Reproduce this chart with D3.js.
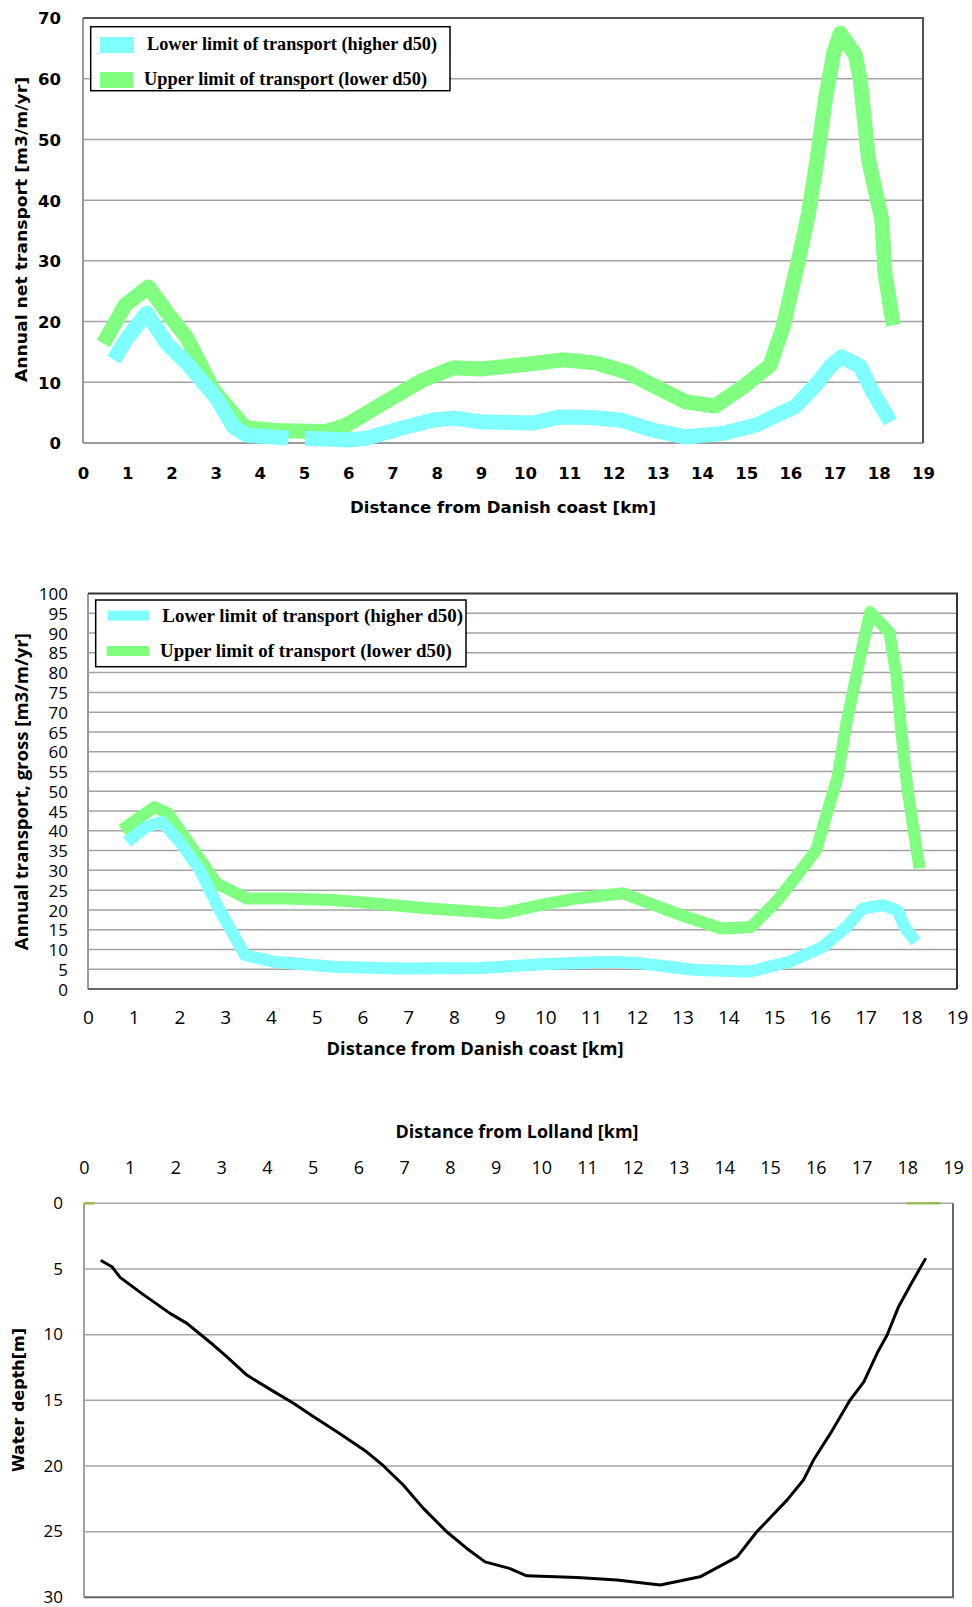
<!DOCTYPE html>
<html>
<head>
<meta charset="utf-8">
<script src="https://cdn.jsdelivr.net/npm/d3@7"></script>
<style>
  body { margin: 0; background: #fff; }
  svg { display: block; }
</style>
</head>
<body>
<svg id="chart" width="972" height="1607"></svg>
<script>
// ---- chart 1 : annual net transport ----
const net_lower_km = [0.69, 1.02, 1.44, 1.89, 2.35, 3.02, 3.4, 3.7, 4.65, 4.8, 5.02, 6.04, 6.42, 7.17, 7.92, 8.38, 8.98,
  10.19, 10.79, 11.47, 12.15, 12.9, 13.62, 14.49, 15.24, 16.11, 16.6, 16.9, 17.16, 17.58, 17.84, 18.26];
const net_lower = [13.7, 17.5, 21.4, 16.4, 13.1, 7.4, 2.7, 1.3, 0.8, null, 0.8, 0.5, 0.8, 2.4, 3.8, 4.1, 3.5,
  3.3, 4.3, 4.2, 3.8, 2.1, 1.0, 1.6, 3.0, 6.0, 9.8, 12.6, 14.2, 12.6, 8.7, 3.5];
const net_upper_km = [0.46, 0.95, 1.48, 1.97, 2.35, 2.95, 3.67, 4.5, 5.5, 5.97, 6.8, 7.7, 8.38, 9.0, 10.2, 10.83, 11.58,
  12.3, 13.62, 14.3, 14.94, 15.54, 15.84, 16.22, 16.41, 16.6, 16.79, 16.98, 17.13, 17.47, 17.58, 17.77, 18.07, 18.14, 18.33];
const net_upper = [16.4, 22.7, 25.7, 20.8, 17.3, 8.7, 2.5, 2.0, 1.9, 3.0, 6.6, 10.4, 12.4, 12.2, 13.1, 13.7, 13.2,
  11.7, 6.8, 6.1, 9.3, 12.8, 19.2, 31.3, 37.8, 46.6, 56.5, 64.2, 67.5, 63.9, 59.8, 46.6, 36.7, 28, 19.4];
const net_ticks = [0, 10, 20, 30, 40, 50, 60, 70];

// ---- chart 2 : annual gross transport ----
const gross_lower_km = [0.85, 1.28, 1.61, 2.01, 2.45, 2.88, 3.43, 4.05, 5.36, 6.82, 8.56, 10.02, 11.48, 12.06,
  13.3, 14.46, 15.34, 16.07, 16.58, 16.94, 17.38, 17.7, 17.85, 18.1];
const gross_lower = [37.2, 41.0, 42.3, 37.2, 30.0, 19.9, 8.6, 6.9, 5.6, 5.2, 5.3, 6.3, 6.9, 6.5,
  4.8, 4.4, 6.9, 10.7, 15.7, 20.4, 21.2, 19.9, 15.7, 11.9];
const gross_upper_km = [0.74, 1.14, 1.46, 1.75, 2.16, 2.81, 3.47, 4.34, 5.36, 6.09, 7.4, 8.56, 9.04, 9.88, 10.68,
  11.7, 12.86, 13.85, 14.5, 15.08, 15.48, 15.92, 16.39, 16.58, 16.87, 17.1, 17.52, 17.67, 17.78, 17.92, 18.18];
const gross_upper = [40.2, 43.5, 46.0, 44.4, 37.6, 26.7, 22.9, 22.9, 22.5, 21.8, 20.4, 19.5, 19.1, 21.2, 22.9,
  24.2, 19.1, 15.3, 15.7, 22.5, 28.4, 35.1, 53.6, 67.1, 83.1, 95.3, 90.2, 79.7, 65.4, 50.3, 30.5];
const gross_ticks = [0, 5, 10, 15, 20, 25, 30, 35, 40, 45, 50, 55, 60, 65, 70, 75, 80, 85, 90, 95, 100];

// ---- chart 3 : water depth ----
const depth_km = [0.39, 0.61, 0.79, 1.26, 1.88, 2.25, 2.83, 3.12, 3.56, 4.07, 4.58, 5.02, 5.53, 6.18, 6.55, 6.98,
  7.42, 7.93, 8.37, 8.77, 9.3, 9.68, 10.78, 11.65, 12.6, 13.47, 14.28, 14.71, 15.37, 15.73, 15.95, 16.32, 16.75,
  17.05, 17.34, 17.56, 17.81, 18.07, 18.39];
const depth = [4.39, 4.83, 5.64, 6.86, 8.38, 9.14, 10.79, 11.68, 13.08, 14.17, 15.23, 16.25, 17.4, 18.92, 20.0, 21.45,
  23.23, 25.01, 26.28, 27.3, 27.8, 28.36, 28.49, 28.69, 29.07, 28.44, 26.92, 25.01, 22.6, 21.07, 19.55, 17.52, 14.98,
  13.59, 11.42, 10.03, 7.87, 6.22, 4.27];
const shore_left_km = [0, 0.24];
const shore_right_km = [17.99, 18.73];
const shore_depth = [0, 0];
const depth_ticks = [0, 5, 10, 15, 20, 25, 30];

const km_ticks = [0, 1, 2, 3, 4, 5, 6, 7, 8, 9, 10, 11, 12, 13, 14, 15, 16, 17, 18, 19];
const legend_labels = ["Lower limit of transport (higher d50)", "Upper limit of transport (lower d50)"];

const cyan = "#80ffff", green = "#80ff80";
const svg = d3.select("#chart");

function pairs(xs, ys) { return xs.map((k, i) => [k, ys[i]]); }

function title(g, txt, cx, cy, len, font, size, rotate) {
  g.append("text")
    .attr("transform", `translate(${cx},${cy})` + (rotate ? " rotate(-90)" : ""))
    .attr("text-anchor", "middle").attr("dy", "0.35em")
    .attr("font-family", font).attr("font-size", size).attr("font-weight", "bold")
    .attr("textLength", len).attr("lengthAdjust", "spacingAndGlyphs")
    .text(txt);
}

function transportChart(c) {
  const x = d3.scaleLinear().domain([0, 19]).range([c.left, c.right]);
  const y = d3.scaleLinear().domain([0, c.ymax]).range([c.bottom, c.top]);
  const g = svg.append("g");

  g.append("g").selectAll("line").data(c.yticks.slice(1, -1)).join("line")
    .attr("x1", x(0)).attr("x2", x(19))
    .attr("y1", d => y(d)).attr("y2", d => y(d))
    .attr("stroke", "#a3a3a3").attr("stroke-width", 1.5);

  // frame: light left/bottom, dark top/right
  g.append("line").attr("x1", x(0)).attr("x2", x(0)).attr("y1", y(c.ymax)).attr("y2", y(0))
    .attr("stroke", "#9a9a9a").attr("stroke-width", 2);
  g.append("line").attr("x1", x(0)).attr("x2", x(19)).attr("y1", y(0)).attr("y2", y(0))
    .attr("stroke", c.bottomColor).attr("stroke-width", 2);
  g.append("path")
    .attr("d", `M${x(0)},${y(c.ymax)}H${x(19)}V${y(0)}`)
    .attr("fill", "none").attr("stroke", c.frame).attr("stroke-width", 2);

  const yAxis = g.append("g").attr("transform", `translate(${c.ylabelX},0)`)
    .call(d3.axisLeft(y).tickValues(c.yticks).tickSize(0).tickPadding(0));
  yAxis.select(".domain").remove();
  yAxis.attr("font-family", c.tickFont).attr("font-size", c.ytickSize).attr("font-weight", c.tickWeight);
  yAxis.selectAll("text").attr("fill", "#000").attr("dy", "0.36em");

  const xAxis = g.append("g").attr("transform", `translate(0,${c.xlabelY})`)
    .call(d3.axisBottom(x).tickValues(km_ticks).tickSize(0).tickPadding(0));
  xAxis.select(".domain").remove();
  xAxis.attr("font-family", c.tickFont).attr("font-size", c.tickSize).attr("font-weight", c.tickWeight);
  xAxis.selectAll("text").attr("fill", "#000").attr("dy", "0.36em");

  const line = d3.line().defined(d => d[1] != null).x(d => x(d[0])).y(d => y(d[1]));
  g.append("path").datum(pairs(c.upperKm, c.upper)).attr("d", line)
    .attr("fill", "none").attr("stroke", green).attr("stroke-width", c.lw).attr("stroke-linejoin", "round");
  g.append("path").datum(pairs(c.lowerKm, c.lower)).attr("d", line)
    .attr("fill", "none").attr("stroke", cyan).attr("stroke-width", c.lw).attr("stroke-linejoin", "round");

  // legend
  const L = c.legend;
  g.append("rect").attr("x", L.x).attr("y", L.y).attr("width", L.w).attr("height", L.h)
    .attr("fill", "#fff").attr("stroke", "#000").attr("stroke-width", 1.5);
  const item = g.append("g").selectAll("g").data(legend_labels).join("g");
  item.append("rect")
    .attr("x", (d, i) => L.sx[i]).attr("y", (d, i) => L.sy[i])
    .attr("width", (d, i) => L.sw[i]).attr("height", L.sh)
    .attr("fill", (d, i) => i === 0 ? cyan : green);
  item.append("text")
    .attr("x", (d, i) => L.tx[i]).attr("y", (d, i) => L.ty[i])
    .attr("textLength", (d, i) => L.tl[i]).attr("lengthAdjust", "spacingAndGlyphs")
    .attr("font-family", "'Liberation Serif', 'Times New Roman', serif")
    .attr("font-size", 18).attr("font-weight", "bold")
    .text(d => d);

  title(g, c.xTitle[0], c.xTitle[1], c.xTitle[2], c.xTitle[3], c.titleFont, c.titleSize, false);
  title(g, c.yTitle[0], c.yTitle[1], c.yTitle[2], c.yTitle[3], c.titleFont, c.titleSize, true);
}

transportChart({
  left: 83, right: 923, top: 18, bottom: 443, ymax: 70, yticks: net_ticks,
  frame: "#555", bottomColor: "#9a9a9a",
  ylabelX: 61, xlabelY: 473,
  tickFont: "'DejaVu Sans', sans-serif", tickSize: 16.5, ytickSize: 16.5, tickWeight: "bold",
  lw: 15,
  lowerKm: net_lower_km, lower: net_lower, upperKm: net_upper_km, upper: net_upper,
  legend: { x: 90.7, y: 26.7, w: 359.3, h: 64, sx: [100, 100], sy: [37, 72], sw: [34, 33], sh: 16,
    tx: [147, 144], ty: [50, 85], tl: [290, 283] },
  titleFont: "'DejaVu Sans', sans-serif", titleSize: 16,
  xTitle: ["Distance from Danish coast [km]", 503, 507, 306],
  yTitle: ["Annual net transport [m3/m/yr]", 21.5, 229.5, 305]
});

transportChart({
  left: 88, right: 957, top: 593.5, bottom: 989, ymax: 100, yticks: gross_ticks,
  frame: "#333", bottomColor: "#666",
  ylabelX: 68, xlabelY: 1017.5,
  tickFont: "'Open Sans', sans-serif", tickSize: 19, ytickSize: 17, tickWeight: "normal",
  lw: 12,
  lowerKm: gross_lower_km, lower: gross_lower, upperKm: gross_upper_km, upper: gross_upper,
  legend: { x: 95.7, y: 600, w: 370.3, h: 66.7, sx: [108, 106.7], sy: [610.7, 646], sw: [41, 42.3], sh: 10,
    tx: [162.3, 160], ty: [622, 657], tl: [300.7, 291.7] },
  titleFont: "'Open Sans', sans-serif", titleSize: 18,
  xTitle: ["Distance from Danish coast  [km]", 475, 1048.5, 297],
  yTitle: ["Annual transport,  gross [m3/m/yr]", 21.5, 791.7, 317]
});

// ---- chart 3 ----
{
  const x = d3.scaleLinear().domain([0, 19]).range([84, 953]);
  const y = d3.scaleLinear().domain([0, 30]).range([1203.3, 1597.3]);
  const g = svg.append("g");

  g.append("g").selectAll("line").data(depth_ticks.slice(0, -1)).join("line")
    .attr("x1", x(0)).attr("x2", x(19))
    .attr("y1", d => y(d)).attr("y2", d => y(d))
    .attr("stroke", "#a6a6a6").attr("stroke-width", 1.5);
  g.append("line").attr("x1", x(0)).attr("x2", x(0)).attr("y1", y(0)).attr("y2", y(30))
    .attr("stroke", "#a0a0a0").attr("stroke-width", 2);
  g.append("path").attr("d", `M${x(19)},${y(0)}V${y(30)}H${x(0)}`)
    .attr("fill", "none").attr("stroke", "#666").attr("stroke-width", 2);

  const yAxis = g.append("g").attr("transform", "translate(63,0)")
    .call(d3.axisLeft(y).tickValues(depth_ticks).tickSize(0).tickPadding(0));
  yAxis.select(".domain").remove();
  yAxis.attr("font-family", "'Open Sans', sans-serif").attr("font-size", 17);
  yAxis.selectAll("text").attr("fill", "#000").attr("dy", "0.3em");

  const xAxis = g.append("g").attr("transform", "translate(0,1168)")
    .call(d3.axisTop(x).tickValues(km_ticks).tickSize(0).tickPadding(0));
  xAxis.select(".domain").remove();
  xAxis.attr("font-family", "'Open Sans', sans-serif").attr("font-size", 18);
  xAxis.selectAll("text").attr("fill", "#000").attr("dy", "0.36em");

  const line = d3.line().x(d => x(d[0])).y(d => y(d[1]));
  g.append("path").datum(pairs(shore_left_km, shore_depth)).attr("d", line)
    .attr("fill", "none").attr("stroke", "#9bbb59").attr("stroke-width", 2.5);
  g.append("path").datum(pairs(shore_right_km, shore_depth)).attr("d", line)
    .attr("fill", "none").attr("stroke", "#9bbb59").attr("stroke-width", 2.5);
  g.append("path").datum(pairs(depth_km, depth)).attr("d", line)
    .attr("fill", "none").attr("stroke", "#000").attr("stroke-width", 3)
    .attr("stroke-linejoin", "round").attr("stroke-linecap", "round");

  title(g, "Distance from Lolland  [km]", 517, 1132, 243, "'Open Sans', sans-serif", 18, false);
  title(g, "Water depth[m]", 18.5, 1400, 144, "'DejaVu Sans', sans-serif", 16, true);
}
</script>
</body>
</html>
